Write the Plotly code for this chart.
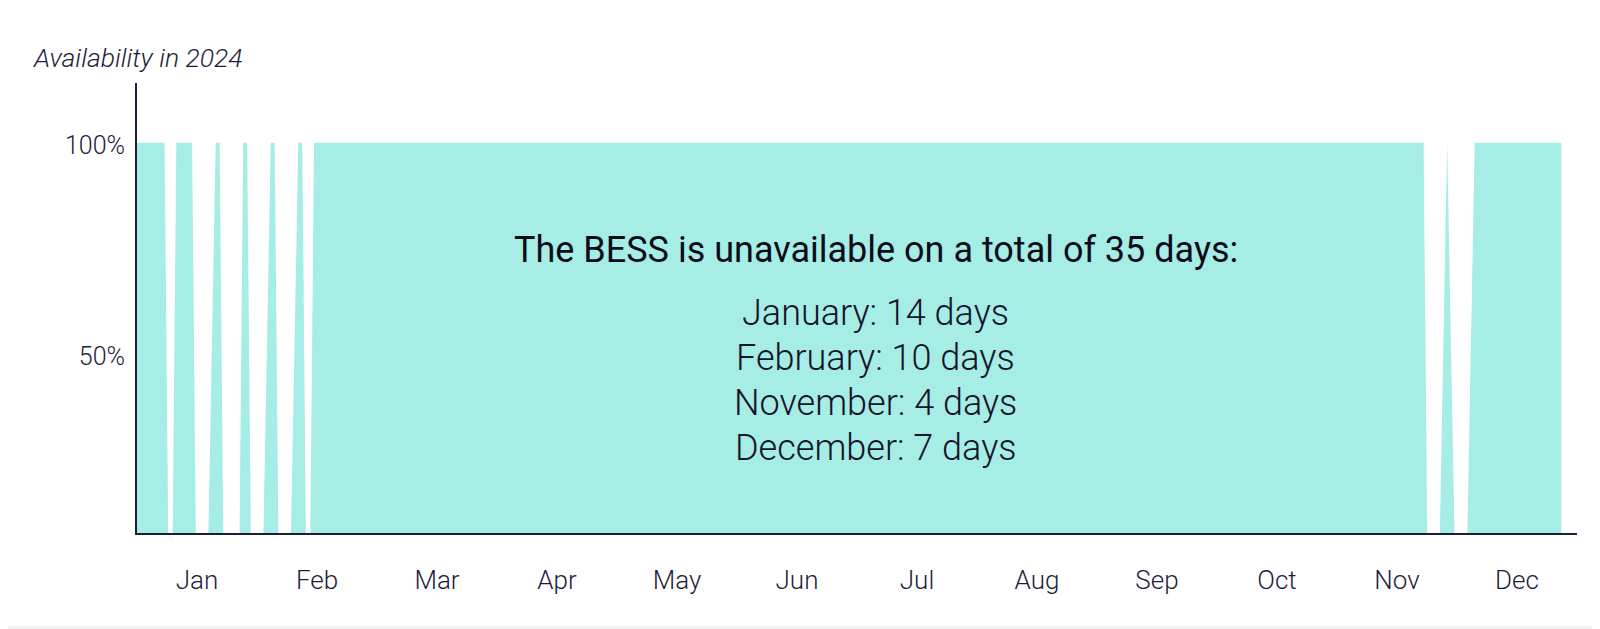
import pandas as pd
import plotly.graph_objects as go

# ---------------------------------------------------------------- data ---- #
# availability of the BESS in 2024, points where the curve changes (percent)
avail_dates = [
    "2024-01-01", "2024-01-08", "2024-01-09", "2024-01-10", "2024-01-11",
    "2024-01-15", "2024-01-16", "2024-01-19", "2024-01-21", "2024-01-22",
    "2024-01-23", "2024-01-27", "2024-01-28", "2024-01-29", "2024-01-30",
    "2024-02-02", "2024-02-04", "2024-02-05", "2024-02-06", "2024-02-09",
    "2024-02-11", "2024-02-12", "2024-02-13", "2024-02-14", "2024-02-15",
    "2024-11-23", "2024-11-24", "2024-11-27", "2024-11-29", "2024-12-01",
    "2024-12-04", "2024-12-06", "2024-12-28",
]
avail_values = [
    100, 100, 0, 0, 100,
    100, 0, 0, 100, 100,
    0, 0, 100, 100, 0,
    0, 100, 100, 0, 0,
    100, 100, 0, 0, 100,
    100, 0, 0, 100, 0,
    0, 100, 100,
]

month_labels = ["Jan", "Feb", "Mar", "Apr", "May", "Jun",
                "Jul", "Aug", "Sep", "Oct", "Nov", "Dec"]
y_tick_vals = [50, 100]
y_tick_text = ["50%", "100%"]

summary_title = "The BESS is unavailable on a total of 35 days:"
summary_lines = ["January: 14 days", "February: 10 days",
                 "November: 4 days", "December: 7 days"]
axis_title = "Availability in 2024"

# --------------------------------------------------------------- style ---- #
FONT = "Roboto, 'DejaVu Sans Condensed', sans-serif"
NAVY = "#1d1d3b"
TEAL = "#a6ede6"

# plot area: 1440 x 450 px, helpers to place things in paper units
PW, PH = 1440, 450
def px_x(px):
    return (px - 137) / PW
def px_y(py):
    return (533 - py) / PH

# month labels sit in the middle of twelve equal parts of the year
year_start = pd.Timestamp("2024-01-01")
month_ticks = [year_start + pd.Timedelta(days=(k + 0.5) * 30.5) for k in range(12)]

fig = go.Figure()

fig.add_trace(go.Scatter(
    x=pd.to_datetime(avail_dates),
    y=avail_values,
    mode="lines",
    line=dict(width=0, color=TEAL),
    fill="tozeroy",
    fillcolor=TEAL,
    hoverinfo="skip",
    showlegend=False,
))

# white card on a light grey frame (right and bottom edges visible)
fig.add_shape(type="rect", xref="paper", yref="paper",
              x0=px_x(-20), x1=px_x(1597),
              y0=px_y(626), y1=px_y(-20),
              fillcolor="white", line_width=0, layer="below")

fig.add_annotation(text=axis_title, xref="paper", yref="paper",
                   x=px_x(31), y=px_y(58),
                   xanchor="left", yanchor="middle", showarrow=False,
                   font=dict(family=FONT, size=26.5, color=NAVY,
                             style="italic", weight=300))

fig.add_annotation(text=summary_title, xref="paper", yref="paper",
                   x=px_x(876), y=px_y(250),
                   xanchor="center", yanchor="middle", showarrow=False,
                   font=dict(family=FONT, size=36, color="#0c0c18"))

for i, line in enumerate(summary_lines):
    fig.add_annotation(text=line, xref="paper", yref="paper",
                       x=px_x(876), y=px_y(313 + 45 * i),
                       xanchor="center", yanchor="middle", showarrow=False,
                       font=dict(family=FONT, size=36, color="#14142a",
                                 weight=300))

fig.update_layout(
    # the page adds an 8 px body margin, so the figure is 8 px smaller
    width=1592, height=621,
    margin=dict(l=129, r=23, t=75, b=96),
    paper_bgcolor="#f1f1f1",
    plot_bgcolor="white",
    font=dict(family=FONT, color=NAVY),
    xaxis=dict(
        type="date",
        range=["2024-01-01", "2025-01-01"],
        tickvals=month_ticks,
        ticktext=month_labels,
        ticks="",
        showgrid=False,
        zeroline=False,
        showline=True,
        linecolor=NAVY,
        linewidth=2,
        ticklabelstandoff=23,
        tickfont=dict(size=26, color=NAVY, weight=300),
    ),
    yaxis=dict(
        range=[7.1, 114.2],
        tickvals=y_tick_vals,
        ticktext=y_tick_text,
        ticks="",
        showgrid=False,
        zeroline=False,
        showline=True,
        linecolor=NAVY,
        linewidth=2,
        ticklabelstandoff=5,
        ticklabelshift=3,
        tickfont=dict(size=25, color=NAVY, weight=300),
    ),
)

fig.write_html("out.html")
